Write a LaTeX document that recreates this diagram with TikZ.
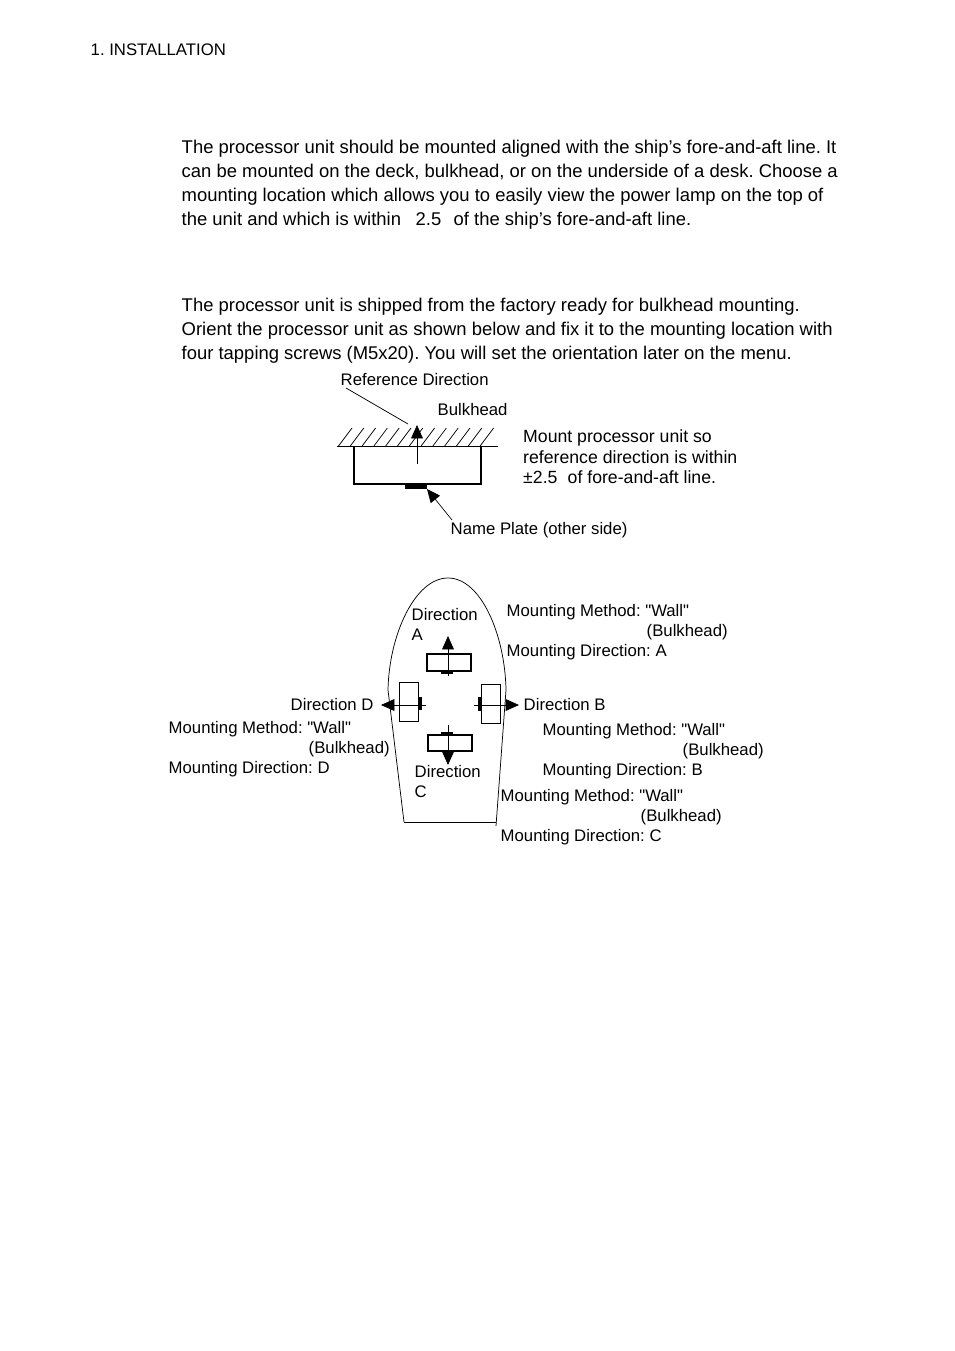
\documentclass[tikz,border=0pt]{standalone}
\usepackage{fontspec}
\setmainfont{Liberation Sans}
\newfontfamily\qqfont{Liberation Sans}
\usetikzlibrary{arrows.meta,positioning,calc}
\newcommand{\qq}{{\qqfont"}}
\tikzset{body/.style={anchor=base west,inner sep=0pt,xshift=-0.4pt,font=\fontsize{13.83}{15}\selectfont\frenchspacing},
  lbl/.style={anchor=base west,inner sep=0pt,xshift=-0.4pt,font=\fontsize{12.55}{14}\selectfont\frenchspacing},
  note/.style={anchor=base west,inner sep=0pt,xshift=-0.4pt,font=\fontsize{13.25}{15}\selectfont\frenchspacing},
  unitbox/.style={draw,rectangle,inner sep=0pt,line width=0.9pt},
  plate/.style={fill=black,rectangle,inner sep=0pt},
  flow/.style={-{Triangle[length=10pt,width=8.8pt]},line width=0.5pt},
  thin line/.style={line width=0.55pt}}
\begin{document}
\begin{tikzpicture}[x=0.75pt,y=-0.75pt]
\useasboundingbox (0,0) rectangle (954,1351);
\node[lbl] (head) at (91,55.5) {1. INSTALLATION};
\node[body] (p1a) at (182,153.5) {The processor unit should be mounted aligned with the ship’s fore-and-aft line. It};
\node[body] (p1b) at (182,177.5) {can be mounted on the deck, bulkhead, or on the underside of a desk. Choose a};
\node[body] (p1c) at (182,201.5) {mounting location which allows you to easily view the power lamp on the top of};
\node[body] (p1d) at (182,225.5) {the unit and which is within};
\node[body] (p1e) at (416,225.5) {2.5};
\node[body] (p1f) at (454,225.5) {of the ship’s fore-and-aft line.};
\node[body] (p2a) at (182,311.5) {The processor unit is shipped from the factory ready for bulkhead mounting.};
\node[body] (p2b) at (182,335.5) {Orient the processor unit as shown below and fix it to the mounting location with};
\node[body] (p2c) at (182,359.5) {four tapping screws (M5x20). You will set the orientation later on the menu.};
% bulkhead view
\node[lbl] (refdir) at (341,385) {Reference Direction};
\node[lbl] (bulk) at (438,415) {Bulkhead};
\node[note] (mnt1) at (523.5,442) {Mount processor unit so};
\node[note] (mnt2) at (523.5,463) {reference direction is within};
\node[note] (mnt3) at (523.5,483) {±2.5};
\node[note] (mnt4) at (568,483) {of fore-and-aft line.};
\node[lbl] (name) at (451,534) {Name Plate (other side)};
\coordinate (wallL) at (337,446);
\coordinate (wallR) at (498,446);
\draw[thin line] (wallL) -- (wallR);
\foreach \x in {338.5,350.3,...,481} \draw[thin line] (\x,446) -- ++(13.5,-18);
\coordinate (unitL) at (354,446);
\coordinate (unitR) at (481,446);
\coordinate (unitB) at (417,484);
\draw[line width=1.2pt] (unitL) |- (unitB) -| (unitR);
\node[plate,minimum width=16.5pt,minimum height=4.5pt] (np) at (416,486) {};
\coordinate (refS) at (417,464);
\coordinate (refT) at (417,425);
\draw[flow] (refS) -- (refT);
\coordinate (leadS) at (346,388);
\coordinate (leadT) at (408,424);
\draw[thin line] (leadS) -- (leadT);
\coordinate (nameS) at (452,520);
\coordinate (nameT) at (427,489);
\draw[flow] (nameS) -- (nameT);
% ship
\coordinate (bow) at (448,578);
\coordinate (portM) at (388,690);
\coordinate (stbdM) at (506,690);
\coordinate (sternL) at (404,822);
\coordinate (sternR) at (496,822);
\coordinate (sternT) at (496,826);
\draw[thin line] (sternL) -- (portM) .. controls (389,635) and (415,578) .. (bow)
  .. controls (481,578) and (505,635) .. (stbdM) -- (sternT);
\draw[thin line] (sternL) -- (sternR);
\node[unitbox,minimum width=33pt,minimum height=12.75pt] (unitA) at (449,662.5) {};
\node[plate,minimum width=9pt,minimum height=2.6pt] (npA) at (447,672.5) {};
\coordinate (aS) at (448,676);
\coordinate (aT) at (448,636);
\draw[flow] (aS) -- (aT);
\node[unitbox,line width=0.7pt,minimum width=14.25pt,minimum height=29.25pt] (unitD) at (408.5,701.5) {};
\node[plate,minimum width=2.8pt,minimum height=9.75pt] (npD) at (420,703.5) {};
\coordinate (dS) at (426,705);
\coordinate (dT) at (381,705);
\draw[flow] (dS) -- (dT);
\node[unitbox,line width=0.7pt,minimum width=14.25pt,minimum height=29.25pt] (unitB) at (490.5,703.5) {};
\node[plate,minimum width=2.8pt,minimum height=10.5pt] (npB) at (480,704) {};
\coordinate (bS) at (474,705);
\coordinate (bT) at (519,705);
\draw[flow] (bS) -- (bT);
\node[unitbox,minimum width=33pt,minimum height=12pt] (unitC) at (450,743) {};
\node[plate,minimum width=9pt,minimum height=2.6pt] (npC) at (447,733.5) {};
\coordinate (cS) at (448,725);
\coordinate (cT) at (448,765);
\draw[flow] (cS) -- (cT);
% labels
\node[lbl] (dirA1) at (412,620) {Direction};
\node[lbl] (dirA2) at (412,640) {A};
\node[lbl] (mA1) at (507,616) {Mounting Method: \qq Wall\qq};
\node[lbl] (mA2) at (647,636) {(Bulkhead)};
\node[lbl] (mA3) at (507,656) {Mounting Direction: A};
\node[lbl] (dirD) at (291,710) {Direction D};
\node[lbl] (mD1) at (169,733) {Mounting Method: \qq Wall\qq};
\node[lbl] (mD2) at (309,753) {(Bulkhead)};
\node[lbl] (mD3) at (169,773) {Mounting Direction: D};
\node[lbl] (dirB) at (524,710) {Direction B};
\node[lbl] (mB1) at (543,735) {Mounting Method: \qq Wall\qq};
\node[lbl] (mB2) at (683,755) {(Bulkhead)};
\node[lbl] (mB3) at (543,775) {Mounting Direction: B};
\node[lbl] (dirC1) at (415,777) {Direction};
\node[lbl] (dirC2) at (415,797) {C};
\node[lbl] (mC1) at (501,801) {Mounting Method: \qq Wall\qq};
\node[lbl] (mC2) at (641,821) {(Bulkhead)};
\node[lbl] (mC3) at (501,841) {Mounting Direction: C};
\end{tikzpicture}
\end{document}
